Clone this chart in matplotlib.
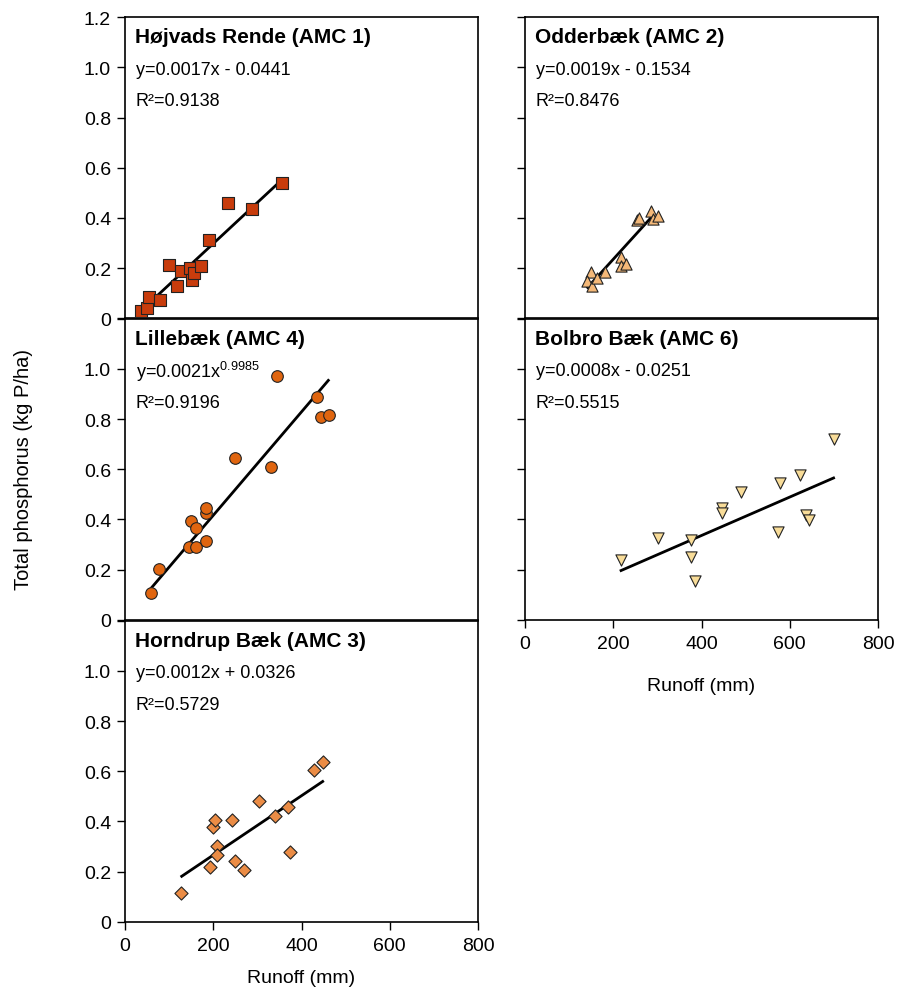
# coding: UTF-8
import numpy as np
from matplotlib import pyplot as plt
import matplotlib as mpl

mpl.rcParams['font.family'] = ['Liberation Sans', 'DejaVu Sans']
mpl.rcParams['mathtext.default'] = 'regular'

# Hojvads Rende (AMC 1)
hoj_x = [35.5, 50.6, 55, 79.3, 99.7, 118.6, 127.7, 147.3, 152.6, 157.1, 171.5, 190.4, 234.2, 287.8, 355.1]
hoj_y = [0.030, 0.040, 0.084, 0.074, 0.214, 0.127, 0.188, 0.199, 0.153, 0.179, 0.207, 0.312, 0.461, 0.434, 0.539]
hoj_fit_x = [62, 348]
hoj_fit_y = [0.072, 0.540]

# Odderbaek (AMC 2)
odd_x = [149.7, 139.9, 152.7, 162.6, 181.4, 217.7, 217.7, 228.3, 253, 258, 285, 289.6, 301]
odd_y = [0.183, 0.150, 0.127, 0.159, 0.183, 0.243, 0.210, 0.216, 0.392, 0.400, 0.426, 0.396, 0.409]
odd_fit_x = [142, 286]
odd_fit_y = [0.123, 0.402]

# Lillebaek (AMC 4)
lil_x = [58.9, 77.8, 145, 160.2, 148.9, 160.2, 182.8, 182.8, 182.8, 249.3, 330.1, 343.7, 434.3, 443.4, 463]
lil_y = [0.108, 0.202, 0.290, 0.290, 0.394, 0.366, 0.315, 0.427, 0.446, 0.644, 0.609, 0.972, 0.886, 0.808, 0.817]
lil_fit_x = [58.9, 460.8]
lil_fit_y = [0.125, 0.954]

# Bolbro Baek (AMC 6)
bol_x = [217.7, 302.4, 376.5, 376.5, 385.6, 446.1, 446.1, 489.2, 573.1, 576.8, 622.1, 637.3, 642.6, 699.3]
bol_y = [0.240, 0.325, 0.319, 0.249, 0.156, 0.446, 0.426, 0.511, 0.349, 0.544, 0.577, 0.419, 0.399, 0.721]
bol_fit_x = [217.7, 699.3]
bol_fit_y = [0.196, 0.565]

# Horndrup Baek (AMC 3)
hor_x = [127.7, 192.6, 198.7, 204, 207.8, 207.8, 241.8, 250, 269.7, 303, 340, 368.7, 374, 429, 448]
hor_y = [0.113, 0.217, 0.377, 0.406, 0.301, 0.266, 0.406, 0.242, 0.208, 0.483, 0.421, 0.457, 0.277, 0.603, 0.637]
hor_fit_x = [128.5, 448]
hor_fit_y = [0.181, 0.559]

yticks = [0, 0.2, 0.4, 0.6, 0.8, 1.0, 1.2]
xticks = [0, 200, 400, 600, 800]


def setup_ax(ax, ylabels, top_label, xlabels, lpad=10):
    ax.set_xlim(0, 800)
    ax.set_ylim(0, 1.2)
    ax.set_yticks(yticks)
    if ylabels:
        lab = ['0', '0.2', '0.4', '0.6', '0.8', '1.0', '1.2' if top_label else '']
        ax.set_yticklabels(lab)
    else:
        ax.set_yticklabels([])
    ax.set_xticks(xticks)
    if xlabels:
        ax.set_xticklabels([str(v) for v in xticks])
        ax.tick_params(axis='x', direction='out', length=6, width=1, labelsize=14, pad=5)
        ax.set_xlabel('Runoff (mm)', fontsize=14, labelpad=lpad)
    else:
        ax.tick_params(axis='x', length=0, labelbottom=False)
    ax.tick_params(axis='y', direction='out', length=6, width=1, labelsize=14, pad=4)
    for s in ax.spines.values():
        s.set_linewidth(1.2)


def panel(ax, x, y, fx, fy, marker, color, size, title, eq, r2):
    ax.plot(fx, fy, color='k', linewidth=2, zorder=2)
    ax.scatter(x, y, marker=marker, s=size, c=color, edgecolors='#222222', linewidths=0.8, zorder=3)
    ax.text(0.028, 0.935, title, transform=ax.transAxes, fontsize=15, fontweight='bold', va='center')
    ax.text(0.03, 0.828, eq, transform=ax.transAxes, fontsize=13, va='center')
    ax.text(0.03, 0.722, r2, transform=ax.transAxes, fontsize=13, va='center')


fig = plt.figure(figsize=(9.06, 9.95), dpi=100)
L = 125 / 906.0
R = 525 / 906.0
W = 353 / 906.0
H = 301 / 995.0
ax_hoj = fig.add_axes([L, (995 - 319.3) / 995.0, W, H])
ax_odd = fig.add_axes([R, (995 - 319.3) / 995.0, W, H])
ax_lil = fig.add_axes([L, (995 - 620.7) / 995.0, W, H])
ax_bol = fig.add_axes([R, (995 - 620.7) / 995.0, W, H])
ax_hor = fig.add_axes([L, (995 - 922.7) / 995.0, W, H])

setup_ax(ax_hoj, True, True, False)
setup_ax(ax_odd, False, False, False)
setup_ax(ax_lil, True, False, False)
setup_ax(ax_bol, False, False, True, lpad=18)
setup_ax(ax_hor, True, False, True, lpad=11)

panel(ax_hoj, hoj_x, hoj_y, hoj_fit_x, hoj_fit_y, 's', '#C83C0C', 80,
      'Højvads Rende (AMC 1)', 'y=0.0017x - 0.0441', 'R²=0.9138')
panel(ax_odd, odd_x, odd_y, odd_fit_x, odd_fit_y, '^', '#F4B878', 65,
      'Odderbæk (AMC 2)', 'y=0.0019x - 0.1534', 'R²=0.8476')
panel(ax_lil, lil_x, lil_y, lil_fit_x, lil_fit_y, 'o', '#E0650F', 70,
      'Lillebæk (AMC 4)', 'y=0.0021x$^{0.9985}$', 'R²=0.9196')
panel(ax_bol, bol_x, bol_y, bol_fit_x, bol_fit_y, 'v', '#F8DC98', 65,
      'Bolbro Bæk (AMC 6)', 'y=0.0008x - 0.0251', 'R²=0.5515')
panel(ax_hor, hor_x, hor_y, hor_fit_x, hor_fit_y, 'D', '#EB8C45', 45,
      'Horndrup Bæk (AMC 3)', 'y=0.0012x + 0.0326', 'R²=0.5729')

fig.text(24 / 906.0, 1 - 470 / 995.0, 'Total phosphorus (kg P/ha)', rotation=90,
         fontsize=14.5, va='center', ha='center')

plt.savefig('out.png', dpi=100)
